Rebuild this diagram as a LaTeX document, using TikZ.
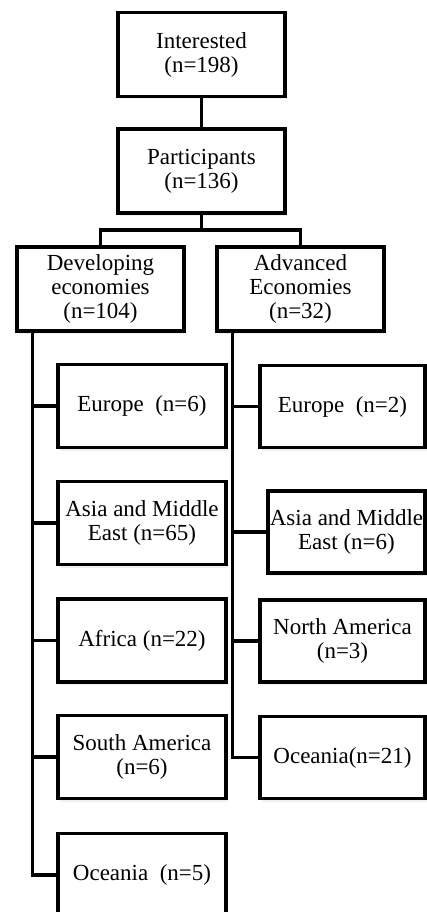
\documentclass[tikz,border=0pt]{standalone}
\usepackage{fontspec}
\setmainfont{Liberation Serif}
\usetikzlibrary{shadows}
\begin{document}
\begin{tikzpicture}[x=1pt,y=-1pt,
  box/.style={draw=black, line width=3.2pt, fill=white, align=center,
    inner sep=0pt, font=\fontsize{23}{24}\selectfont,
    drop shadow={opacity=0.13, shadow xshift=2pt, shadow yshift=-3pt}},
  lbox/.style={box, minimum width=168pt, minimum height=83pt},
  rbox/.style={box, minimum width=165pt, minimum height=82pt},
  tbox/.style={box, minimum width=167pt, minimum height=84pt},
  conn/.style={draw=black, line width=3.2pt}]
\useasboundingbox (0,0) rectangle (426,912);
% top levels
\node[tbox] (int) at (201.5,54.5) {Interested\\(n=198)};
\node[tbox] (par) at (201.5,171) {Participants\\(n=136)};
\node[tbox] (dev) at (100.5,289) {Developing\\economies\\(n=104)};
\node[tbox] (adv) at (300.5,289) {Advanced\\Economies\\(n=32)};
% developing children
\node[lbox] (eurL) at (142,406) {Europe\ \ (n=6)};
\node[lbox] (asiL) at (142,523) {Asia and Middle\\East (n=65)};
\node[lbox] (afr)  at (142,640.5) {Africa (n=22)};
\node[lbox] (sam)  at (142,757) {South America\\(n=6)};
\node[lbox] (ocL)  at (142,875) {Oceania\ \ (n=5)};
% advanced children
\node[rbox] (eurR) at (342.5,406.5) {Europe\ \ (n=2)};
\node[rbox, minimum width=157pt] (asiR) at (346.5,532) {Asia and Middle\\East (n=6)};
\node[rbox] (nam)  at (342.5,641) {North America\\(n=3)};
\node[rbox] (ocR)  at (342.5,757.5) {Oceania(n=21)};
% connectors
\coordinate (split) at (201.5,230);
\coordinate (devsp) at ([xshift=17pt]dev.south west);
\coordinate (advsp) at ([xshift=17pt]adv.south west);
\draw[conn] (int.south) -- (par.north);
\draw[conn] (par.south) -- (split);
\draw[conn] (dev.north) |- (split) -| (adv.north);
\draw[conn] (devsp) |- (ocL.west);
\draw[conn] (eurL.west) -- (eurL.west -| devsp);
\draw[conn] (asiL.west) -- (asiL.west -| devsp);
\draw[conn] (afr.west) -- (afr.west -| devsp);
\draw[conn] (sam.west) -- (sam.west -| devsp);
\draw[conn] (advsp) |- (ocR.west);
\draw[conn] (eurR.west) -- (eurR.west -| advsp);
\draw[conn] (asiR.west) -- (asiR.west -| advsp);
\draw[conn] (nam.west) -- (nam.west -| advsp);
\end{tikzpicture}
\end{document}
